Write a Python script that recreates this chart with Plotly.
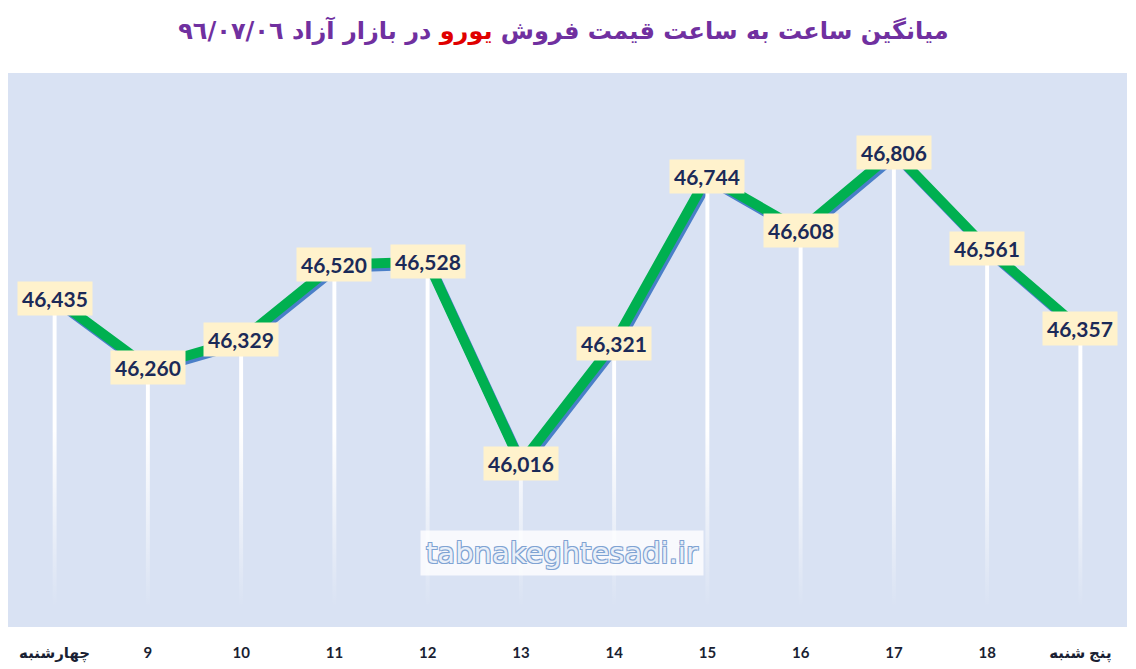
import plotly.graph_objects as go

# hourly average euro price, free market, 96/07/06
hours = ["چهارشنبه", "9", "10", "11", "12", "13", "14", "15", "16", "17", "18", "پنج شنبه"]
prices = [46435, 46260, 46329, 46520, 46528, 46016, 46321, 46744, 46608, 46806, 46561, 46357]
y_range = [45600, 47007]
drop_base = 45650  # where the white drop lines end

title_main = "میانگین ساعت به ساعت قیمت فروش"
title_red = "یورو"
title_tail = "در بازار آزاد ٩٦/٠٧/٠٦"

idx = list(range(len(hours)))

# the main plot sits 2px left / 3px up of the shadow plot
W, H = 1136, 669
ml, mr, mt, mb = 8, 7, 73, 39
ex = 2 / (W - ml - mr)
ey = 3 / (H - mt - mb)

fig = go.Figure()

# blue shadow under the green line (drawn on the offset subplot)
fig.add_trace(go.Scatter(
    x=idx, y=prices, mode="lines",
    line=dict(color="#4a7fc8", width=10),
    xaxis="x", yaxis="y", hoverinfo="skip", showlegend=False,
))

# white fading drop lines from each point to the bottom
hw = 0.021
dx, dy = [], []
for i, v in zip(idx, prices):
    dx += [i - hw, i + hw, i + hw, i - hw, i - hw, None]
    dy += [v, v, drop_base, drop_base, v, None]
fig.add_trace(go.Scatter(
    x=dx, y=dy, mode="lines", fill="toself",
    line=dict(width=0, color="rgba(255,255,255,0)"),
    fillgradient=dict(
        type="vertical", start=drop_base, stop=46100,
        colorscale=[[0, "rgba(255,255,255,0)"], [1, "rgba(255,255,255,1)"]],
    ),
    xaxis="x2", yaxis="y2", hoverinfo="skip", showlegend=False,
))

# green price line
fig.add_trace(go.Scatter(
    x=idx, y=prices, mode="lines",
    line=dict(color="#00b050", width=10),
    xaxis="x2", yaxis="y2", showlegend=False,
))

# value labels
for i, v in zip(idx, prices):
    fig.add_annotation(
        x=i, y=v, xref="x2", yref="y2", text=f"{v:,}", showarrow=False,
        bgcolor="#fff2cc", borderpad=4,
        font=dict(family="Lato, DejaVu Sans", size=21, color="#1b2a58", weight="bold"),
    )

# watermark
fig.add_annotation(
    x=0.494, y=0.097, xref="paper", yref="paper", text="tabnakeghtesadi.ir",
    showarrow=False, bgcolor="rgba(255,255,255,0.8)", borderpad=5,
    font=dict(family="DejaVu Sans", size=29, color="#e9eff8",
              shadow="1px 1px 0 #7fa3d3, -1px -1px 0 #7fa3d3, 1px -1px 0 #7fa3d3, -1px 1px 0 #7fa3d3"),
)

# plot background
fig.add_shape(type="rect", xref="paper", yref="paper", x0=0, x1=1 - ex, y0=ey, y1=1,
              fillcolor="#d9e2f3", line=dict(width=0), layer="below")

axis_common = dict(showgrid=False, zeroline=False, showline=False, fixedrange=True)
fig.update_layout(
    width=W, height=H,
    margin=dict(l=ml, r=mr, t=mt, b=mb),
    paper_bgcolor="white", plot_bgcolor="rgba(0,0,0,0)",
    title=dict(
        text=f"{title_main} <span style='color:#e00000'>{title_red}</span> {title_tail}",
        x=0.496, xanchor="center", y=0.955, yanchor="middle",
        font=dict(family="DejaVu Sans", size=24, color="#7030a0", weight="bold"),
    ),
    xaxis=dict(domain=[ex, 1], range=[-0.5, 11.5], anchor="y", showticklabels=False, **axis_common),
    yaxis=dict(domain=[0, 1 - ey], range=y_range, anchor="x", showticklabels=False, **axis_common),
    xaxis2=dict(domain=[0, 1 - ex], range=[-0.5, 11.5], anchor="y2",
                tickmode="array", tickvals=idx, ticktext=hours,
                ticks="outside", ticklen=12, tickcolor="rgba(0,0,0,0)",
                tickfont=dict(family="Lato, DejaVu Sans", size=15, color="#1a1f33", weight="bold"),
                **axis_common),
    yaxis2=dict(domain=[ey, 1], range=y_range, anchor="x2", showticklabels=False, **axis_common),
)

# drop the default 8px page margin so the figure fills the window
fig.write_html("out.html", config={"displayModeBar": False},
               post_script="document.body.style.margin='0px';")
